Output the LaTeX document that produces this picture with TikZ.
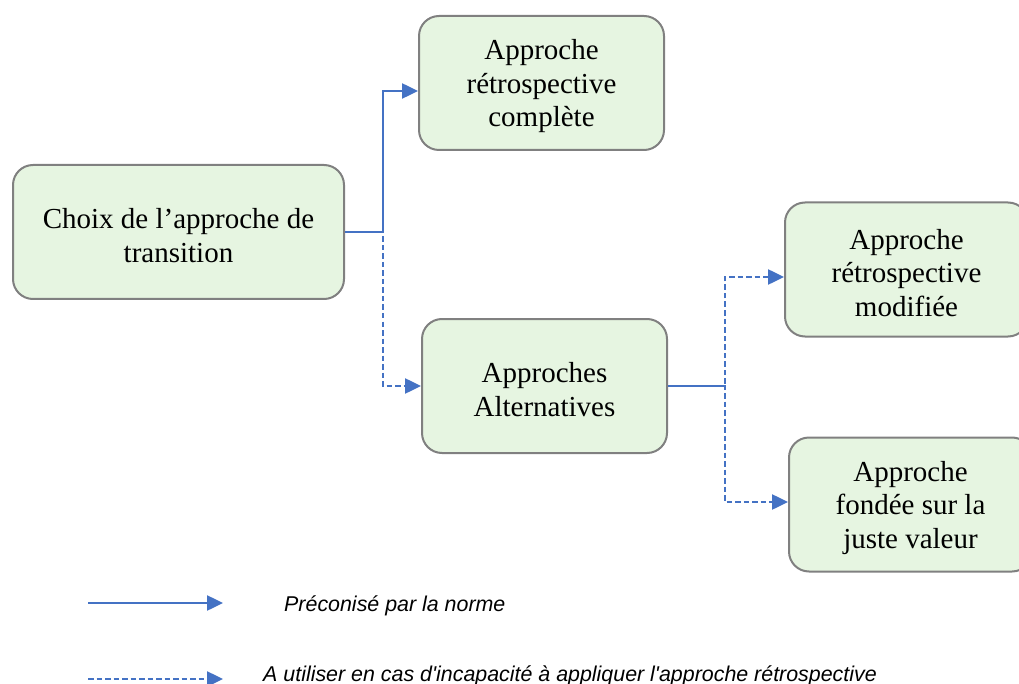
\documentclass[tikz,border=0pt]{standalone}
\usepackage{fontspec}
\setmainfont{Liberation Serif}
\newfontfamily\legendfont{Liberation Sans}[Ligatures=TeXOff]
\usetikzlibrary{arrows.meta}

\definecolor{linkblue}{HTML}{4472C4}
\definecolor{boxfill}{HTML}{E6F5E1}
\definecolor{boxdraw}{HTML}{808080}

\tikzset{
  stepbox/.style={draw=boxdraw, line width=2pt, fill=boxfill, rounded corners=20pt,
    minimum height=134pt, inner sep=0pt},
  % the caption of a box sits a little below its centre
  boxtext/.style={align=center, inner sep=0pt, yshift=-3.5pt,
    font=\fontsize{29}{33.5}\selectfont},
  advised/.style={draw=linkblue, line width=2.5pt,
    -{Triangle[length=16pt,width=15pt]}},
  fallback/.style={advised, dash pattern=on 5.5pt off 3pt},
  legendtext/.style={anchor=base west, inner sep=0pt,
    font=\legendfont\itshape\fontsize{21.4}{25}\selectfont}
}

\begin{document}
\begin{tikzpicture}[x=1pt, y=-1pt]
  \useasboundingbox (0,0) rectangle (1019,684);
  \clip (0,0) rectangle (1019,684);

  % boxes
  \node[stepbox, minimum width=331pt,
    label={[boxtext]center:Choix de l’approche de\\transition}] (choix) at (178.5,232) {};
  \node[stepbox, minimum width=245pt,
    label={[boxtext]center:Approche\\rétrospective\\complète}] (complete) at (541.5,83) {};
  \node[stepbox, minimum width=245pt,
    label={[boxtext]center:Approches\\Alternatives}] (alt) at (544.5,386) {};
  \node[stepbox, minimum width=243pt,
    label={[boxtext]center:Approche\\rétrospective\\modifiée}] (modif) at (906.5,269.5) {};
  \node[stepbox, minimum width=243pt,
    label={[boxtext]center:Approche\\fondée sur la\\juste valeur}] (juste) at (910.5,504.5) {};

  % junction points of the elbow connectors
  \coordinate (j1) at (383,232);
  \coordinate (j2) at (725,386);

  % connectors
  \draw[fallback] (choix.east) -- (j1) |- (alt.west);
  \draw[advised] (choix.east) -- (j1) |- ([yshift=-8pt]complete.west);
  \draw[fallback] (alt.east) -- (j2) |- ([yshift=-7.5pt]modif.west);
  \draw[fallback, dash phase=4pt] (alt.east) -- (j2) |- ([yshift=2.5pt]juste.west);

  % legend
  \coordinate (l1a) at (88,603);
  \coordinate (l1b) at (223,603);
  \coordinate (l2a) at (88,679);
  \coordinate (l2b) at (223,679);
  \draw[advised] (l1a) -- (l1b);
  \draw[fallback] (l2a) -- (l2b);
  \node[legendtext] (t1) at (284,611) {Préconisé par la norme};
  \node[legendtext] (t2) at (263,681) {A utiliser en cas d'incapacité à appliquer l'approche rétrospective};
\end{tikzpicture}
\end{document}
